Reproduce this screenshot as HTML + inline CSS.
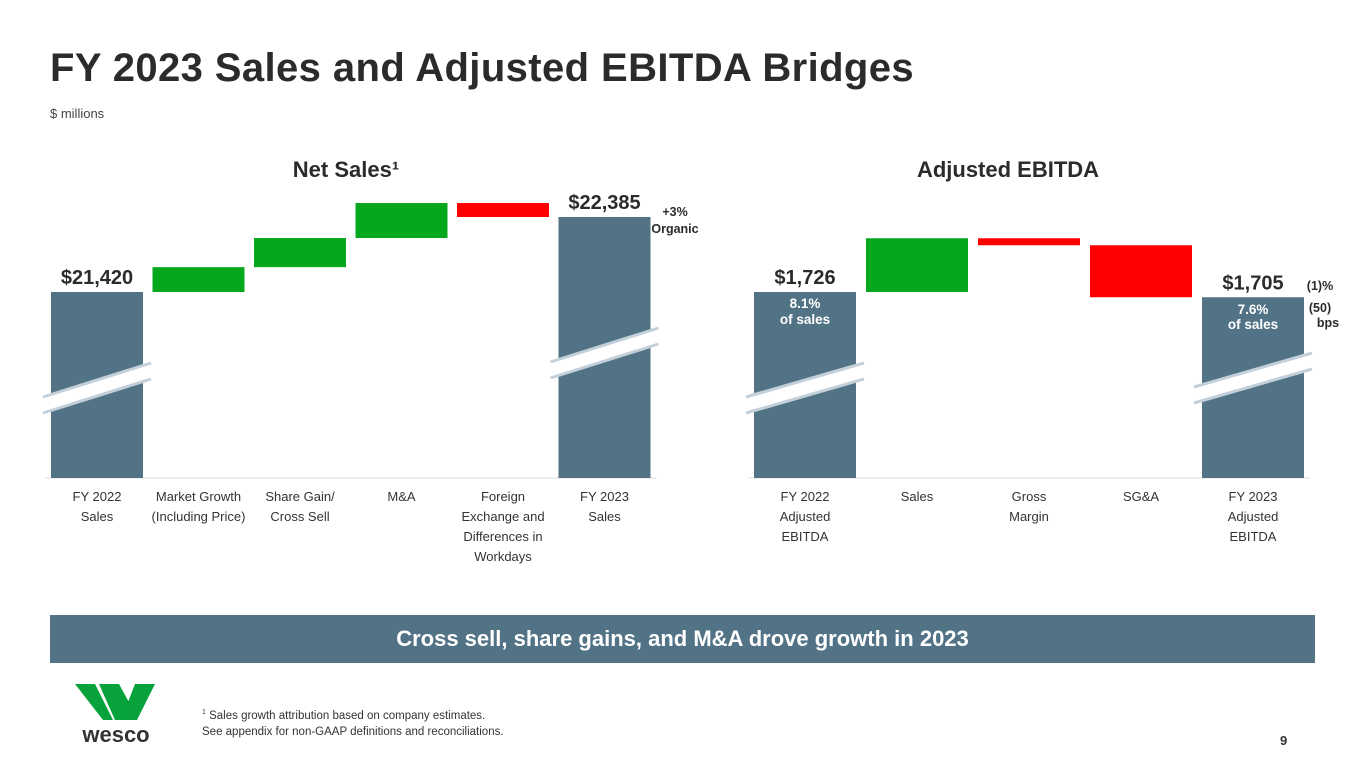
<!DOCTYPE html>
<html><head><meta charset="utf-8"><style>
body{margin:0;width:1365px;height:768px;background:#fff;font-family:"Liberation Sans",sans-serif;overflow:hidden;position:relative;color:#333}
.a{position:absolute}
</style></head><body>
<div class="a" style="left:50px;top:46px;font-size:40px;font-weight:bold;color:#2b2b2b;letter-spacing:0.4px">FY 2023 Sales and Adjusted EBITDA Bridges</div>
<div class="a" style="left:50px;top:106px;font-size:13px;color:#444">$ millions</div>
<svg class="a" style="left:0;top:0" width="1365" height="610" id="svg"></svg>
<div class="a" style="left:50px;top:615px;width:1265px;height:48px;background:#527386;color:#fff;font-weight:bold;font-size:22px;line-height:48px;text-align:center">Cross sell, share gains, and M&amp;A drove growth in 2023</div>
<svg class="a" style="left:75px;top:684px" width="82" height="62">
<polygon points="0,0 20,0 38,36 28,36" fill="#07a23b"/><polygon points="24,0 44,0 56,22 48,36 40,36" fill="#07a23b"/><polygon points="60,0 80,0 62,36 46,36" fill="#07a23b"/>
<text x="41" y="58" text-anchor="middle" font-size="22" font-weight="bold" fill="#333" font-family="Liberation Sans,sans-serif">wesco</text></svg>
<div class="a" style="left:202px;top:705px;font-size:11.5px;line-height:16px;color:#333"><sup style="font-size:7px">1</sup> Sales growth attribution based on company estimates.<br>See appendix for non-GAAP definitions and reconciliations.</div>
<div class="a" style="left:1280px;top:733px;font-size:13px;font-weight:bold">9</div>
<script>
const salesCats=["FY 2022\nSales","Market Growth\n(Including Price)","Share Gain/\nCross Sell","M&A","Foreign\nExchange and\nDifferences in\nWorkdays","FY 2023\nSales"];
const salesStart=21420;
const salesDeltas=[320,375,450,-180];
const salesEnd=22385;
const ebitdaCats=["FY 2022\nAdjusted\nEBITDA","Sales","Gross\nMargin","SG&A","FY 2023\nAdjusted\nEBITDA"];
const ebitdaStart=1726;
const ebitdaDeltas=[215,-28,-208];
const ebitdaEnd=1705;
const salesLabels=["$21,420","$22,385"];
const ebitdaLabels=["$1,726","$1,705"];
const NS="http://www.w3.org/2000/svg",svg=document.getElementById('svg');
function mk(t,a,p){const e=document.createElementNS(NS,t);for(const k in a)e.setAttribute(k,a[k]);(p||svg).appendChild(e);return e;}
function txt(x,y,s,o){const e=mk('text',Object.assign({x:x,y:y,'text-anchor':'middle','font-family':'Liberation Sans,sans-serif'},o));e.textContent=s;return e;}
function chart(cfg){
 const y=v=>292-(v-cfg.start)*cfg.k, base=478;
 const cx=i=>cfg.x0+i*cfg.step, w=cfg.w;
 const n=cfg.cats.length;
 const g=mk('g',{});
 
 
 mk('line',{x1:cfg.x0-w/2-6,x2:cx(n-1)+w/2+6,y1:base,y2:base,stroke:'#ddd'},g);
 const totals=[[0,cfg.start,cfg.labels[0],cfg.b1],[n-1,cfg.end,cfg.labels[1],cfg.b2]];
 totals.forEach(([i,v,l,b])=>{
  const r=mk('rect',{x:cx(i)-w/2,y:y(v),width:w,height:base-y(v),fill:'#527386'},g);
  
  
  const x1=cx(i)-w/2-8,x2=cx(i)+w/2+8;
  mk('polygon',{points:`${x1},${b+4} ${x2},${b-30} ${x2},${b-14} ${x1},${b+20}`,fill:'#fff'},g);
  mk('line',{x1:x1,y1:b+4,x2:x2,y2:b-30,stroke:'#c3d0da','stroke-width':3},g);
  mk('line',{x1:x1,y1:b+20,x2:x2,y2:b-14,stroke:'#c3d0da','stroke-width':3},g);
  const t=txt(cx(i),y(v)-8,l,{'font-size':20,'font-weight':'bold',fill:'#2b2b2b'},g);
  
  
 });
 let run=cfg.start;
 cfg.deltas.forEach((d,j)=>{
  const a=y(run),b=y(run+d);run+=d;
  const r=mk('rect',{x:cx(j+1)-w/2,y:Math.min(a,b),width:w,height:Math.abs(a-b),fill:d>=0?'#05a81c':'#ff0000'},g);
  
  
 });
 cfg.cats.forEach((c,i)=>{c.split('\n').forEach((s,k)=>{const t=txt(cx(i),501+k*20,s,{'font-size':13,fill:'#333'},g);});});
 const h=txt(cfg.tx,177,cfg.title,{'font-size':22,'font-weight':'bold',fill:'#2b2b2b'},g);
 
 
 return {y,cx};
}
const L=chart({name:'net-sales-chart',cats:salesCats,start:salesStart,deltas:salesDeltas,end:salesEnd,k:0.0777,x0:97,step:101.5,w:92,labels:salesLabels,b1:393,b2:358,title:'Net Sales¹',tx:346});
const R=chart({name:'ebitda-chart',cats:ebitdaCats,start:ebitdaStart,deltas:ebitdaDeltas,end:ebitdaEnd,k:0.25,x0:805,step:112,w:102,labels:ebitdaLabels,b1:393,b2:383,title:'Adjusted EBITDA',tx:1008});
const notes=[[675,216,'+3%'],[675,223+10,'Organic'],[1320,290,'(1)%'],[1320,312,'(50)'],[1328,327,'bps']];
notes.forEach(n=>{const t=txt(n[0],n[1],n[2],{'font-size':12.5,'font-weight':'bold',fill:'#2b2b2b'});});
[[805,308,'8.1%'],[805,324,'of sales'],[1253,314,'7.6%'],[1253,329,'of sales']].forEach(n=>{const t=txt(n[0],n[1],n[2],{'font-size':13.5,'font-weight':'bold',fill:'#fff'});});
</script>
</body></html>
